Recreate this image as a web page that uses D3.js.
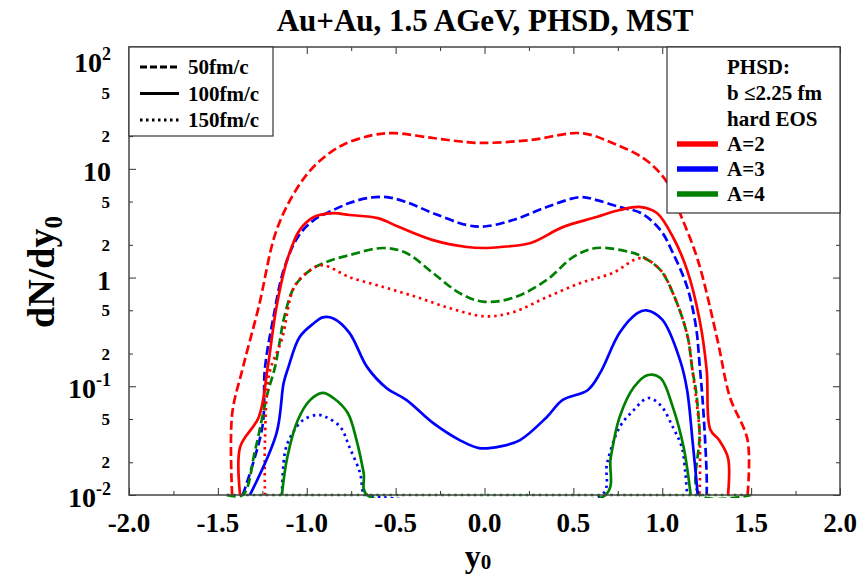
<!DOCTYPE html>
<html>
<head>
<meta charset="utf-8">
<script src="https://cdn.jsdelivr.net/npm/d3@7"></script>
<style>
  body { margin: 0; background: #fff; }
  svg { font-family: "Liberation Serif", "DejaVu Serif", serif; font-weight: bold; }
</style>
</head>
<body>
<svg id="chart" width="860" height="576"></svg>
<script>
// rapidity y0 vs dN/dy0, pairs [y0, dN/dy0]
const a2t50 = [[-1.42,0.01],[-1.42,0.055],[-1.36,0.147],[-1.27,0.54],[-1.17,2.73],[-1.05,6.8],[-0.94,11.3],[-0.8,16.5],[-0.63,20.4],[-0.51,21.3],[-0.29,19.2],[-0.1,17.6],[0.0,17.3],[0.26,18.4],[0.54,21.3],[0.72,17.3],[0.91,12.0],[1.03,7.4],[1.1,3.9],[1.2,1.45],[1.31,0.27],[1.38,0.08],[1.48,0.032],[1.48,0.01]];
const a2t100 = [[-1.375,0.01],[-1.375,0.0276],[-1.27,0.052],[-1.22,0.147],[-1.17,0.54],[-1.11,1.45],[-1.04,2.73],[-0.96,3.6],[-0.85,3.92],[-0.76,3.76],[-0.6,3.52],[-0.48,2.91],[-0.29,2.21],[-0.1,1.91],[0.0,1.87],[0.09,1.91],[0.26,2.08],[0.44,2.91],[0.63,3.6],[0.76,4.18],[0.88,4.45],[0.97,3.92],[1.06,2.36],[1.14,1.17],[1.21,0.41],[1.25,0.141],[1.27,0.04],[1.32,0.032],[1.37,0.0219],[1.37,0.01]];
const a2t150 = [[-1.235,0.01],[-1.235,0.032],[-1.21,0.132],[-1.14,0.27],[-1.07,0.82],[-0.98,1.17],[-0.91,1.3],[-0.76,1.01],[-0.57,0.82],[-0.38,0.66],[-0.19,0.52],[0.0,0.44],[0.16,0.48],[0.35,0.66],[0.54,0.89],[0.72,1.1],[0.88,1.51],[0.99,1.17],[1.06,0.72],[1.14,0.3],[1.17,0.14],[1.21,0.037],[1.21,0.01]];
const a3t50 = [[-1.36,0.01],[-1.25,0.042],[-1.235,0.147],[-1.19,0.41],[-1.13,1.17],[-1.05,2.36],[-0.96,3.38],[-0.85,4.18],[-0.76,4.84],[-0.66,5.38],[-0.55,5.5],[-0.44,4.94],[-0.29,3.92],[-0.1,3.04],[0.0,2.95],[0.16,3.38],[0.35,4.45],[0.54,5.5],[0.63,5.16],[0.76,4.45],[0.88,3.92],[0.99,2.73],[1.06,1.68],[1.14,0.82],[1.19,0.35],[1.21,0.16],[1.23,0.064],[1.25,0.015],[1.25,0.01]];
const a3t100 = [[-1.32,0.01],[-1.17,0.037],[-1.13,0.107],[-1.105,0.147],[-1.04,0.284],[-0.96,0.38],[-0.91,0.43],[-0.85,0.42],[-0.76,0.31],[-0.66,0.15],[-0.55,0.096],[-0.44,0.075],[-0.29,0.046],[-0.14,0.032],[-0.03,0.027],[0.09,0.028],[0.2,0.032],[0.35,0.052],[0.44,0.075],[0.58,0.092],[0.65,0.132],[0.76,0.31],[0.86,0.47],[0.91,0.5],[1.0,0.41],[1.1,0.174],[1.14,0.092],[1.17,0.032],[1.2,0.01]];
const a3t150 = [[-1.14,0.01],[-1.12,0.026],[-1.08,0.037],[-1.02,0.049],[-0.94,0.0545],[-0.89,0.052],[-0.81,0.042],[-0.76,0.0276],[-0.7,0.0159],[-0.68,0.0104],[-0.66,0.01],[0.66,0.01],[0.69,0.0197],[0.76,0.042],[0.84,0.0605],[0.92,0.078],[0.99,0.067],[1.06,0.042],[1.11,0.0276],[1.13,0.0159],[1.14,0.01]];
const a4t50 = [[-1.45,0.01],[-1.36,0.01],[-1.29,0.026],[-1.22,0.087],[-1.18,0.147],[-1.15,0.27],[-1.13,0.41],[-1.07,0.82],[-0.98,1.17],[-0.89,1.39],[-0.76,1.61],[-0.57,1.87],[-0.44,1.68],[-0.29,1.1],[-0.14,0.72],[-0.01,0.6],[0.16,0.65],[0.35,0.95],[0.5,1.55],[0.63,1.87],[0.82,1.71],[0.89,1.55],[0.99,1.17],[1.06,0.72],[1.14,0.3],[1.17,0.14],[1.19,0.09],[1.21,0.037],[1.21,0.01],[1.5,0.01]];
const a4t100 = [[-1.14,0.01],[-1.11,0.022],[-1.05,0.049],[-0.98,0.075],[-0.91,0.087],[-0.85,0.078],[-0.77,0.057],[-0.72,0.032],[-0.68,0.016],[-0.66,0.01],[0.68,0.01],[0.71,0.022],[0.76,0.052],[0.84,0.098],[0.92,0.127],[0.99,0.119],[1.06,0.064],[1.12,0.0276],[1.16,0.01]];
const a4t150 = [[-1.45,0.01],[1.5,0.01]];

const xTicks = [-2,-1.75,-1.5,-1.25,-1,-0.75,-0.5,-0.25,0,0.25,0.5,0.75,1,1.25,1.5,1.75,2];
const xLabels = [-2,-1.5,-1,-0.5,0,0.5,1,1.5,2];
const yMajor = [0.01,0.1,1,10,100];
const yMajorText = [["10","-2"],["10","-1"],["1",""],["10",""],["10","2"]];
const yMinor = [0.02,0.05,0.2,0.5,2,5,20,50];

const colors = {A2: "#ff0000", A3: "#0000ff", A4: "#008000"};
const times = ["50fm/c", "100fm/c", "150fm/c"];
const dashes = {"50fm/c": "9,4", "100fm/c": null, "150fm/c": "2.5,4"};

const series = [
  {a: "A2", t: "50fm/c", data: a2t50},
  {a: "A3", t: "50fm/c", data: a3t50},
  {a: "A4", t: "50fm/c", data: a4t50},
  {a: "A2", t: "150fm/c", data: a2t150},
  {a: "A3", t: "150fm/c", data: a3t150},
  {a: "A4", t: "150fm/c", data: a4t150},
  {a: "A2", t: "100fm/c", data: a2t100},
  {a: "A3", t: "100fm/c", data: a3t100},
  {a: "A4", t: "100fm/c", data: a4t100}
];

const mLeft = 129, mRight = 840, mTop = 47, mBottom = 495;
const svg = d3.select("#chart");

const x = d3.scaleLinear().domain([-2, 2]).range([mLeft, mRight]);
const y = d3.scaleLog().domain([0.01, 132]).range([mBottom, mTop]);

svg.append("clipPath").attr("id", "clip")
  .append("rect").attr("x", mLeft).attr("y", mTop - 2)
  .attr("width", mRight - mLeft).attr("height", mBottom - mTop + 5);

const line = d3.line()
  .x(d => x(d[0]))
  .y(d => y(d[1]))
  .curve(d3.curveCatmullRom.alpha(0.5));

svg.append("g").attr("clip-path", "url(#clip)")
  .selectAll("path").data(series).join("path")
  .attr("d", d => line(d.data))
  .attr("fill", "none")
  .attr("stroke", d => colors[d.a])
  .attr("stroke-width", 2.7)
  .attr("stroke-dasharray", d => dashes[d.t]);

// axes: ticks point inwards on all four sides
function styleAxis(g) {
  g.select(".domain").remove();
  g.selectAll("line").attr("stroke", "#333").attr("stroke-width", 1);
}
svg.append("g").attr("transform", `translate(0,${mBottom})`)
  .call(d3.axisTop(x).tickValues(xTicks).tickSize(6).tickFormat(""))
  .call(g => g.selectAll(".tick line").attr("y2", (d, i) => i % 2 ? -4 : -7))
  .call(styleAxis);
svg.append("g").attr("transform", `translate(0,${mTop})`)
  .call(d3.axisBottom(x).tickValues(xTicks).tickSize(6).tickFormat(""))
  .call(g => g.selectAll(".tick line").attr("y2", (d, i) => i % 2 ? 4 : 7))
  .call(styleAxis);
svg.append("g").attr("transform", `translate(${mLeft},0)`)
  .call(d3.axisRight(y).tickValues(yMajor).tickSize(7).tickFormat(""))
  .call(styleAxis);
svg.append("g").attr("transform", `translate(${mLeft},0)`)
  .call(d3.axisRight(y).tickValues(yMinor).tickSize(4).tickFormat(""))
  .call(styleAxis);
svg.append("g").attr("transform", `translate(${mRight},0)`)
  .call(d3.axisLeft(y).tickValues(yMajor).tickSize(7).tickFormat(""))
  .call(styleAxis);
svg.append("g").attr("transform", `translate(${mRight},0)`)
  .call(d3.axisLeft(y).tickValues(yMinor).tickSize(4).tickFormat(""))
  .call(styleAxis);

svg.append("rect")
  .attr("x", mLeft).attr("y", mTop)
  .attr("width", mRight - mLeft).attr("height", mBottom - mTop)
  .attr("fill", "none").attr("stroke", "#444").attr("stroke-width", 1.5);

// tick labels
svg.append("g").selectAll("text").data(xLabels).join("text")
  .attr("x", d => x(d)).attr("y", 532)
  .attr("text-anchor", "middle")
  .attr("font-size", 27)
  .text(d => d3.format(".1f")(d).replace("−", "-"));

const yl = svg.append("g").selectAll("text").data(yMajor).join("text")
  .attr("x", 111).attr("y", d => y(d) + 12)
  .attr("text-anchor", "end")
  .attr("font-size", 28);
yl.append("tspan").text((d, i) => yMajorText[i][0]);
yl.filter((d, i) => yMajorText[i][1] !== "").append("tspan")
  .attr("dy", -12).attr("font-size", 18)
  .text(d => yMajorText[yMajor.indexOf(d)][1]);

svg.append("g").selectAll("text").data(yMinor).join("text")
  .attr("x", 110).attr("y", d => y(d) + 6)
  .attr("text-anchor", "end")
  .attr("font-size", 17)
  .text(d => String(d).replace(/^0\.0*/, "").replace(/0$/, ""));

// titles
svg.append("text").attr("x", 485).attr("y", 31)
  .attr("text-anchor", "middle").attr("font-size", 31)
  .text("Au+Au, 1.5 AGeV, PHSD, MST");

const xt = svg.append("text").attr("x", 478).attr("y", 567)
  .attr("text-anchor", "middle").attr("font-size", 32);
xt.append("tspan").text("y");
xt.append("tspan").attr("dy", 2).attr("font-size", 21).text("0");

const yt = svg.append("text")
  .attr("transform", "translate(54,272) rotate(-90)")
  .attr("text-anchor", "middle").attr("font-size", 38);
yt.append("tspan").text("dN/dy");
yt.append("tspan").attr("dy", 8).attr("font-size", 25).text("0");

// legend: times
const lg1 = svg.append("g");
lg1.append("rect").attr("x", mLeft).attr("y", mTop)
  .attr("width", 144).attr("height", 89)
  .attr("fill", "#fff").attr("stroke", "#333").attr("stroke-width", 1.2);
const r1 = lg1.selectAll("g").data(times).join("g")
  .attr("transform", (d, i) => `translate(0,${67 + i * 26.5})`);
r1.append("line").attr("x1", 140).attr("x2", 179)
  .attr("stroke", "#000").attr("stroke-width", 3.2)
  .attr("stroke-dasharray", d => d === "50fm/c" ? "7,3" : d === "150fm/c" ? "2.5,3.5" : null);
r1.append("text").attr("x", 188).attr("y", 7).attr("font-size", 21).text(d => d);

// legend: model + species
const lg2 = svg.append("g");
lg2.append("rect").attr("x", 667).attr("y", mTop)
  .attr("width", mRight - 667).attr("height", 166)
  .attr("fill", "#fff").attr("stroke", "#333").attr("stroke-width", 1.2);
const head = ["PHSD:", "b \u22642.25 fm", "hard EOS"];
lg2.selectAll("text.h").data(head).join("text").attr("class", "h")
  .attr("x", 727).attr("y", (d, i) => 74 + i * 26)
  .attr("font-size", 21).text(d => d);
const species = ["A2", "A3", "A4"];
const r2 = lg2.selectAll("g").data(species).join("g")
  .attr("transform", (d, i) => `translate(0,${144 + i * 25})`);
r2.append("line").attr("x1", 677).attr("x2", 718)
  .attr("stroke", d => colors[d]).attr("stroke-width", 5.5);
r2.append("text").attr("x", 727).attr("y", 7).attr("font-size", 21)
  .text(d => "A=" + d.slice(1));
</script>
</body>
</html>
